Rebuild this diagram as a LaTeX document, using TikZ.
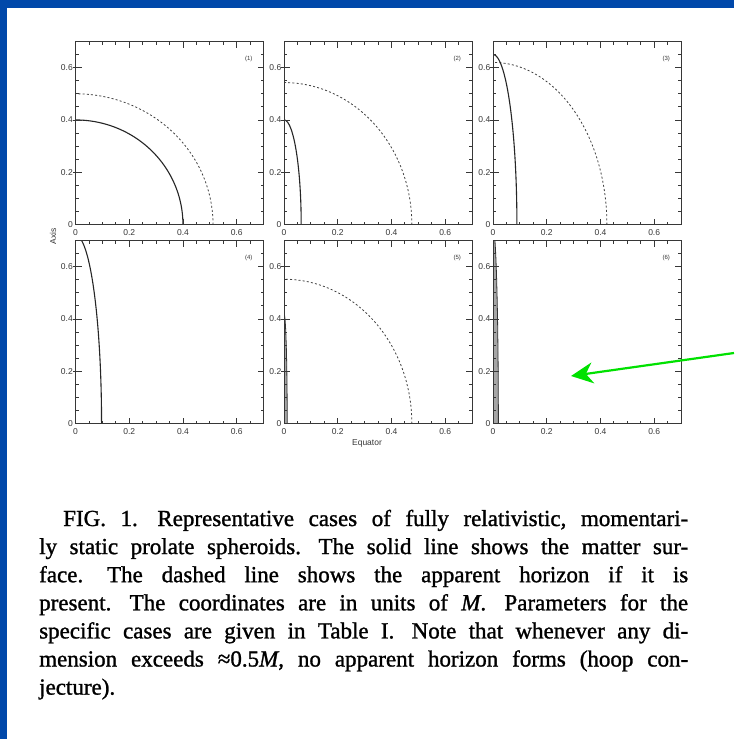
\documentclass[tikz,border=0pt]{standalone}
\usepackage{fontspec}
\setmainfont{Liberation Serif}
\newfontfamily\capfont[BoldFont={Liberation Serif}, BoldFeatures={FakeBold=1.2}, BoldItalicFont={Liberation Serif Italic}, BoldItalicFeatures={FakeBold=1.2}]{Liberation Serif}
\newfontfamily\ticksans{Liberation Sans}
\usetikzlibrary{arrows.meta}
\definecolor{slideblue}{RGB}{0,72,170}
\definecolor{arrowgreen}{RGB}{0,225,0}
\definecolor{inkgray}{RGB}{55,55,55}
\tikzset{
  frameline/.style={draw=inkgray, line width=0.9pt},
  tickline/.style={draw=inkgray, line width=0.8pt},
  ticklabel/.style={font=\ticksans\fontsize{8.5}{8.5}\selectfont, text=inkgray, inner sep=0.5pt},
  surface/.style={draw=black!85, line width=1.1pt},
  thinsurface/.style={draw=black!80, line width=0.8pt, fill=black!35},
  horizon/.style={draw=black!75, line width=0.8pt, dash pattern=on 2pt off 2.2pt},
  caseno/.style={font=\ticksans\fontsize{6}{6}\selectfont, text=inkgray},
  capline/.style={anchor=base west, inner sep=0pt, font=\capfont\bfseries\fontsize{23}{27}\selectfont\frenchspacing},
  greenarrow/.style={draw=arrowgreen, line width=2.2pt, -{Stealth[length=22pt,width=21pt,inset=7pt]}},
}
\newcommand\plotframe[4]{%
  \begin{scope}[shift={(#1,#2)}, x=268.6pt, y=261.4pt]
    \begin{scope}
      \clip (0,0) rectangle (0.7,0.7);
      #4
    \end{scope}
    \draw[frameline] (0,0) rectangle (0.7,0.7);
    \foreach \i in {1,...,13}{
      \pgfmathsetmacro\t{\i*0.05}
      \pgfmathsetmacro\len{ifthenelse(mod(\i,4)==0,6,3)}
      \draw[tickline] (\t,0) -- ++(0,\len pt);
      \draw[tickline] (\t,0.7) -- ++(0,-\len pt);
      \draw[tickline] (0,\t) -- ++(\len pt,0);
      \draw[tickline] (0.7,\t) -- ++(-\len pt,0);
    }
    \foreach \v [count=\k] in {0.2,0.4,0.6}{
      \draw[tickline] (0,\v) -- ++(-3pt,0);
    }
    \foreach \v/\s [count=\k] in {0/0,0.2/0.2,0.4/0.4,0.6/0.6}{
      \node[ticklabel, anchor=east] (p#3y\k) at ([xshift=-2pt]0,\v) {\s};
      \node[ticklabel, anchor=north] (p#3x\k) at ([yshift=-4pt]\v,0) {\s};
    }
    \node[caseno] (p#3lbl) at (0.645,0.635) {(#3)};
  \end{scope}}
\newcommand\sgap{\hspace{5pt}}
\begin{document}
\begin{tikzpicture}[x=1pt,y=-1pt]
\useasboundingbox (0,0) rectangle (734,739);
\fill[white] (0,0) rectangle (734,739);
\fill[slideblue] (0,0) rectangle (734,8);
\fill[slideblue] (0,0) rectangle (7,739);

% top row
\plotframe{75.5}{224.5}{1}{%
  \draw[horizon] plot[domain=0:90, samples=90] ({0.512*cos(\x)},{0.50*sin(\x)});
  \draw[surface] plot[domain=0:90, samples=90] ({0.40*cos(\x)},{0.40*sin(\x)});}
\plotframe{284}{224.5}{2}{%
  \draw[horizon] plot[domain=0:90, samples=90] ({0.476*cos(\x)},{0.543*sin(\x)});
  \draw[surface] plot[domain=0:90, samples=90] ({0.064*cos(\x)},{0.40*sin(\x)});}
\plotframe{493}{224.5}{3}{%
  \draw[horizon] plot[domain=0:90, samples=90] ({0.424*cos(\x)},{0.62*sin(\x)});
  \draw[surface] plot[domain=0:90, samples=90] ({0.089*cos(\x)},{0.65*sin(\x)});}
% bottom row
\plotframe{75.5}{423.5}{4}{%
  \draw[surface] plot[domain=0:90, samples=90] ({0.097*cos(\x)},{0.72*sin(\x)});}
\plotframe{284}{423.5}{5}{%
  \draw[horizon] plot[domain=0:90, samples=90] ({0.476*cos(\x)},{0.552*sin(\x)});
  \draw[thinsurface] (0,0) -- plot[domain=0:90, samples=90] ({0.012*cos(\x)},{0.42*sin(\x)}) -- cycle;}
\plotframe{493}{423.5}{6}{%
  \draw[thinsurface] (0,0) -- plot[domain=0:90, samples=90] ({0.02*cos(\x)},{0.75*sin(\x)}) -- cycle;}

\node[ticklabel, rotate=90] (axislbl) at (53,236) {Axis};
\node[ticklabel] (eqlbl) at (367,443) {Equator};

% caption
\node[capline] (cap1) at (63,526) {\makebox[625pt][s]{FIG. 1.\sgap{} Representative cases of fully relativistic, momentari-}};
\node[capline] (cap2) at (39,554.1) {\makebox[649pt][s]{ly static prolate spheroids.\sgap{} The solid line shows the matter sur-}};
\node[capline] (cap3) at (39,582.2) {\makebox[649pt][s]{face.\sgap{} The dashed line shows the apparent horizon if it is}};
\node[capline] (cap4) at (39,610.3) {\makebox[649pt][s]{present.\sgap{} The coordinates are in units of \textit{M}.\sgap{} Parameters for the}};
\node[capline] (cap5) at (39,638.4) {\makebox[649pt][s]{specific cases are given in Table I.\sgap{} Note that whenever any di-}};
\node[capline] (cap6) at (39,666.5) {\makebox[649pt][s]{mension exceeds ≈0.5\textit{M}, no apparent horizon forms (hoop con-}};
\node[capline] (cap7) at (39,694.6) {jecture).};

% green arrow
\coordinate (arrowstart) at (734,353);
\coordinate (arrowtip) at (571,376);
\draw[greenarrow] (arrowstart) -- (arrowtip);
\end{tikzpicture}
\end{document}
